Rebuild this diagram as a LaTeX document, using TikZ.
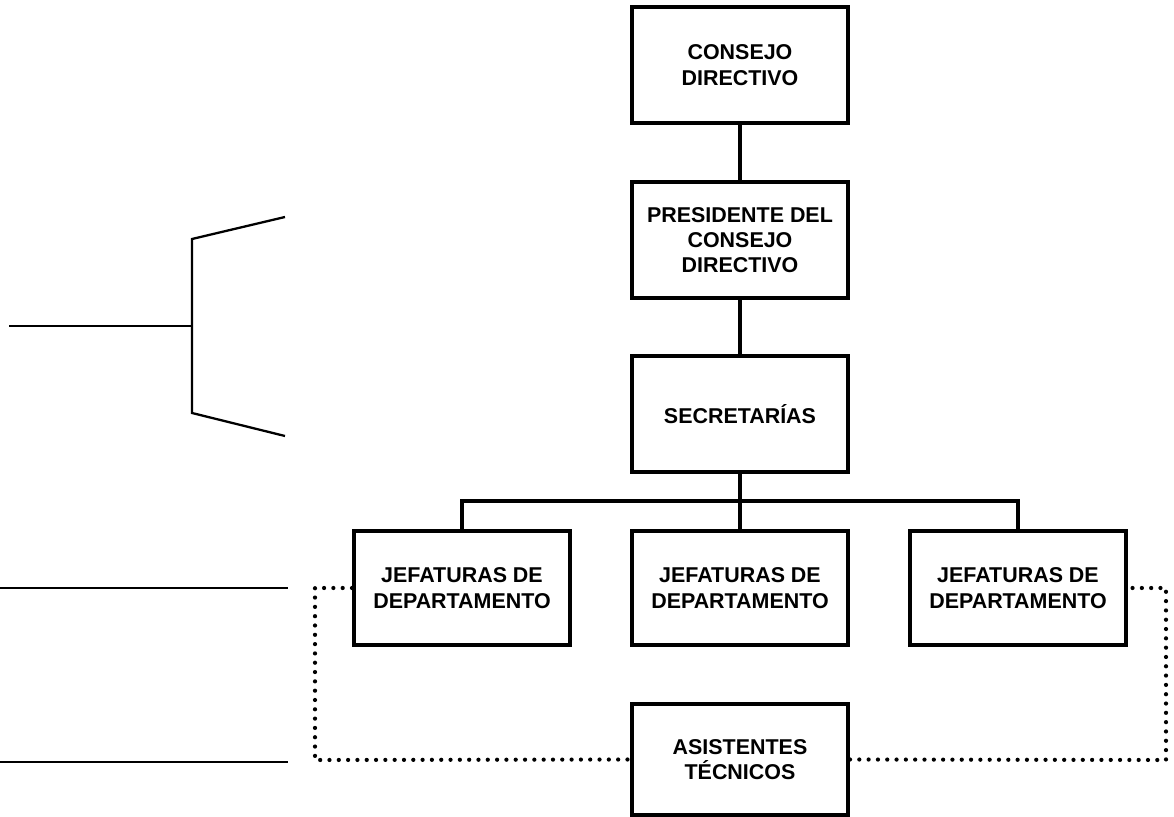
\documentclass[tikz,border=0pt]{standalone}
\usepackage{fontspec}
\setmainfont{Liberation Sans}
\usetikzlibrary{positioning,calc}

\tikzset{
	cargo/.style={draw, line width=2.3pt, align=center, minimum width=4.32cm, minimum height=2.32cm, inner sep=2pt, font=\bfseries\fontsize{12.2}{14.4}\selectfont},
	enlace/.style={line width=2pt},
	apoyo/.style={line width=2.4pt, dash pattern=on 0pt off 5.3pt, line cap=round},
	guia/.style={line width=1.3pt}
}

\begin{document}
\begin{tikzpicture}[x=0.02cm, y=-0.02cm]
	%Frame - pixel grid of the scan%
	%===========================================================
	\useasboundingbox (0,0) rectangle (1174,817);
	\def \Cx {740}; %Axis of the main column
	\def \Dx {278}; %Spacing of the departments
	%Boxes%
	%===========================================================
	\node[cargo] (consejo) at (\Cx,65) {CONSEJO\\DIRECTIVO};
	\node[cargo] (presidente) at (\Cx,240) {PRESIDENTE DEL\\CONSEJO\\DIRECTIVO};
	\node[cargo] (secretarias) at (\Cx,414) {SECRETARÍAS};
	\node[cargo, minimum height=2.28cm] (jefB) at (\Cx,588) {JEFATURAS DE\\DEPARTAMENTO};
	\node[cargo, minimum height=2.28cm] (jefA) at (\Cx-\Dx,588) {JEFATURAS DE\\DEPARTAMENTO};
	\node[cargo, minimum height=2.28cm] (jefC) at (\Cx+\Dx,588) {JEFATURAS DE\\DEPARTAMENTO};
	\node[cargo, minimum height=2.22cm] (asistentes) at (\Cx,759.5) {ASISTENTES\\TÉCNICOS};
	%Line of command%
	%===========================================================
	\coordinate (bus) at (\Cx,501); %Branch point under the secretaries
	\draw[enlace] (consejo) -- (presidente);
	\draw[enlace] (presidente) -- (secretarias);
	\draw[enlace] (secretarias) -- (jefB);
	\draw[enlace] (jefA.north) |- (bus) -| (jefC.north);
	%Staff links (dotted)%
	%===========================================================
	\coordinate (apoyoA) at (315,760); %Lower left corner
	\coordinate (apoyoC) at (1166,760); %Lower right corner
	\draw[apoyo] (jefA.west) -| (apoyoA) -- (asistentes.west);
	\draw[apoyo] (asistentes.east) -- (apoyoC) |- (jefC.east);
	%Left margin strokes%
	%===========================================================
	\coordinate (llave) at (192,326); %Bracket spine
	\draw[guia] (9,326) -- (llave);
	\draw[guia] (285,217) -- (192,239) -- (192,413) -- (285,436); %Bracket
	\draw[guia] (0,588) -- (288,588);
	\draw[guia] (0,762) -- (288,762);
\end{tikzpicture}
\end{document}
